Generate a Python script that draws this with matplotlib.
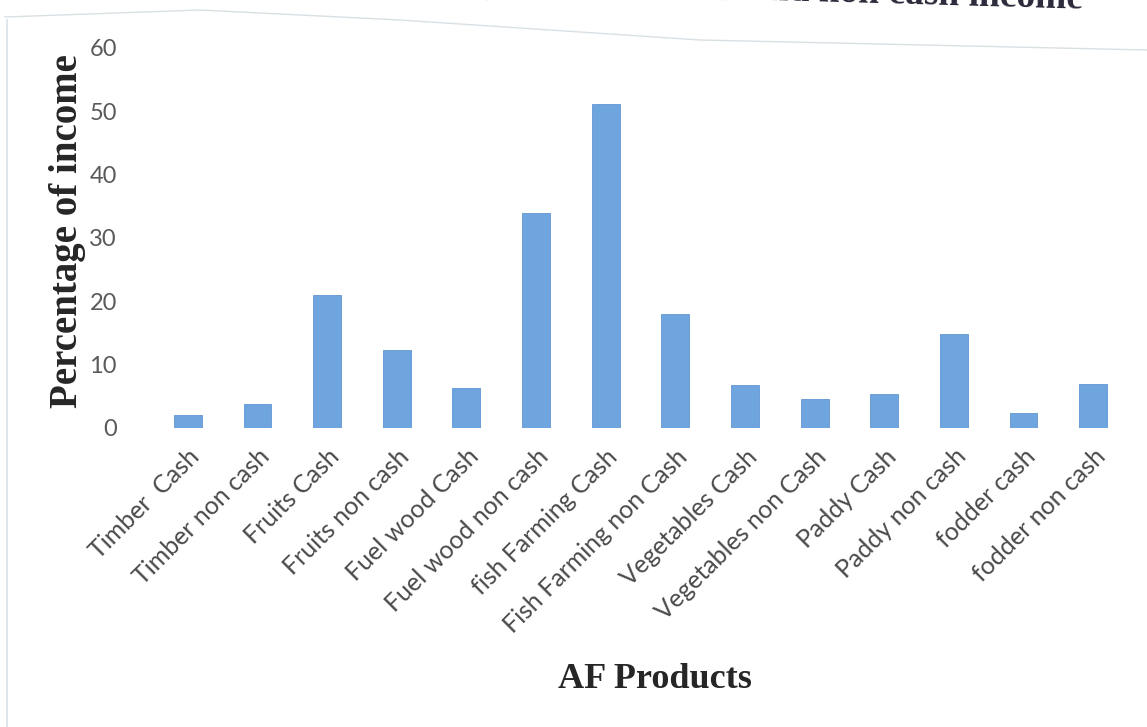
import matplotlib
matplotlib.use("Agg")
import matplotlib.pyplot as plt
from matplotlib.lines import Line2D

# AF product income categories and their share of income (%)
products = [
    "Timber  Cash", "Timber non cash", "Fruits Cash", "Fruits non cash",
    "Fuel wood Cash", "Fuel wood non cash", "fish Farming Cash",
    "Fish Farming non Cash", "Vegetables Cash", "Vegetables non Cash",
    "Paddy Cash", "Paddy non cash", "fodder cash", "fodder non cash",
]
share = [2.1, 3.8, 21.0, 12.3, 6.3, 33.9, 51.1, 18.0, 6.8, 4.6, 5.4, 14.9, 2.4, 7.0]
y_ticks = [0, 10, 20, 30, 40, 50, 60]

W, H = 1147, 727
fig = plt.figure(figsize=(W / 100, H / 100), dpi=100)
fig.patch.set_facecolor("white")

def fx(px):
    return px / W

def fy(py):
    return 1 - py / H

ax = fig.add_axes([fx(153), fy(428), fx(1128) - fx(153), fy(48) - fy(428)])
x = range(len(products))
ax.bar(x, share, width=0.4, color="#6fa5de", edgecolor="#6296d0", linewidth=0.6)

ax.set_xlim(-0.5, len(products) - 0.5)
ax.set_ylim(0, 60)
ax.set_yticks(y_ticks)
ax.set_yticklabels([str(v) for v in y_ticks], family="Lato", fontsize=17, color="#5a5a5a")
ax.set_xticks(list(x))
ax.set_xticklabels(products, rotation=45, ha="right", rotation_mode="anchor",
                   family="Lato", fontsize=18, color="#4a4a4a")
ax.tick_params(axis="y", length=0, pad=26)
ax.tick_params(axis="x", length=0, pad=12)
for s in ax.spines.values():
    s.set_visible(False)

fig.text(fx(68), fy(231), "Percentage of income", rotation=90, ha="center", va="center",
         family="Liberation Serif", fontweight="bold", fontsize=28, color="#262626")
fig.text(fx(655), fy(680), "AF Products", ha="center", va="center",
         family="Liberation Serif", fontweight="bold", fontsize=26, color="#262626")
# chart title, tilted with the page and running off its top edge
fig.text(fx(1083), fy(9), "Contribution of AF products to cash and non cash income",
         ha="right", va="baseline", rotation=-1.6, rotation_mode="anchor",
         family="Liberation Serif", fontweight="bold", fontsize=27, color="#2a2a3a")

# chart frame edges
frame_top_x = [5, 200, 400, 700, 1147]
frame_top_y = [17, 10, 20, 40, 50]
fig.add_artist(Line2D([fx(v) for v in frame_top_x], [fy(v) for v in frame_top_y],
                      transform=fig.transFigure, color="#d8e0e4", lw=1.0))
fig.add_artist(Line2D([fx(7), fx(7)], [fy(20), fy(727)],
                      transform=fig.transFigure, color="#d5e2e7", lw=1.2))

fig.savefig("out.png", dpi=100)
